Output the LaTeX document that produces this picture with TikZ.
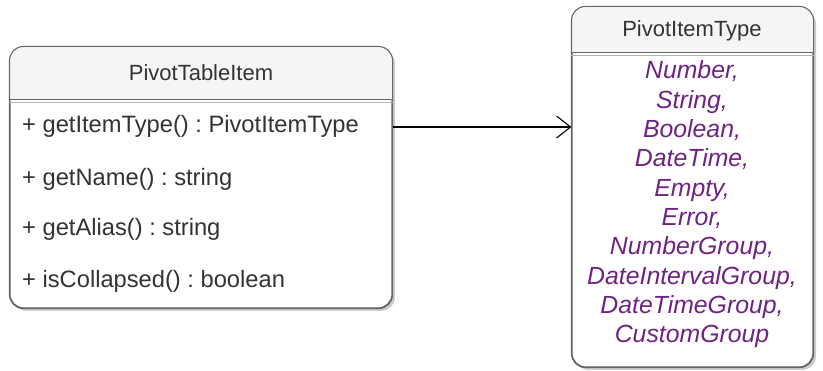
\documentclass[tikz,border=0pt]{standalone}
\usepackage{fontspec}
\setmainfont{Liberation Sans}
\frenchspacing
\definecolor{umlline}{HTML}{666666}
\definecolor{umlhead}{HTML}{F5F5F5}
\definecolor{umltext}{HTML}{333333}
\definecolor{umlenum}{HTML}{6F2383}
\usetikzlibrary{arrows.meta,positioning,calc}

\begin{document}
\begin{tikzpicture}[x=1pt,y=-1pt,
  box/.style={draw=umlline,fill=white,line width=1.1pt,rounded corners=14pt,inner sep=0pt},
  shade/.style={fill=black!20,draw=none,rounded corners=14pt},
  title/.style={font=\fontsize{22}{27}\selectfont,text=umltext,inner sep=0pt},
  member/.style={font=\fontsize{23.7}{28}\selectfont,text=umltext,anchor=west,
    inner sep=0pt,text height=17pt,text depth=5pt},
  literal/.style={font=\fontsize{24.8}{29}\selectfont\itshape,text=umlenum,
    inner sep=0pt,text height=17pt,text depth=5pt},
  assoc/.style={-{Straight Barb[length=14pt,width=22pt]},line width=1.1pt}]
\useasboundingbox (0,0) rectangle (823,371);
% class PivotTableItem
\fill[shade] (13,50) rectangle (395,311);
\node[box,minimum width=382pt,minimum height=261pt] (cls) at (201,177.5) {};
\fill[umlhead] ($(cls.north west)+(0,54)$) [rounded corners=14pt] -- (cls.north west)
  -- (cls.north east) [sharp corners] -- ($(cls.north east)+(0,54)$) -- cycle;
\draw[umlline,line width=1.1pt,rounded corners=14pt] (cls.north west) rectangle (cls.south east);
\draw[umlline,line width=1.1pt] ($(cls.north west)+(0,53)$) -- ($(cls.north east)+(0,53)$);
\draw[black!30,line width=1.6pt] ($(cls.north west)+(0,56)$) -- ($(cls.north east)+(0,56)$);
\node[title] (clsname) at (201,73) {PivotTableItem};
\foreach \i/\txt/\y in {1/{+ getItemType() : PivotItemType}/127,
    2/{+ getName() : string}/180,3/{+ getAlias() : string}/230,
    4/{+ isCollapsed() : boolean}/282}
  \node[member] (m\i) at (22,\y) {\txt};
% enumeration PivotItemType
\fill[shade] (575,10) rectangle (816,370);
\node[box,minimum width=241pt,minimum height=360pt] (enum) at (692.5,187) {};
\fill[umlhead] ($(enum.north west)+(0,46)$) [rounded corners=14pt] -- (enum.north west)
  -- (enum.north east) [sharp corners] -- ($(enum.north east)+(0,46)$) -- cycle;
\draw[umlline,line width=1.1pt,rounded corners=14pt] (enum.north west) rectangle (enum.south east);
\draw[umlline,line width=1.1pt] ($(enum.north west)+(0,46)$) -- ($(enum.north east)+(0,46)$);
\draw[black!30,line width=1.6pt] ($(enum.north west)+(0,49)$) -- ($(enum.north east)+(0,49)$);
\node[title] (enumname) at (692,31) {PivotItemType};
\foreach \lit [count=\k from 0] in {{Number,},{String,},{Boolean,},{DateTime,},{Empty,},
    {Error,},{NumberGroup,},{DateIntervalGroup,},{DateTimeGroup,},{CustomGroup}}
  \node[literal] (l\k) at (692,{73+29.33*\k}) {\lit};
% association
\draw[assoc] (cls.east |- m1) -- (enum.west |- m1);
\end{tikzpicture}
\end{document}
